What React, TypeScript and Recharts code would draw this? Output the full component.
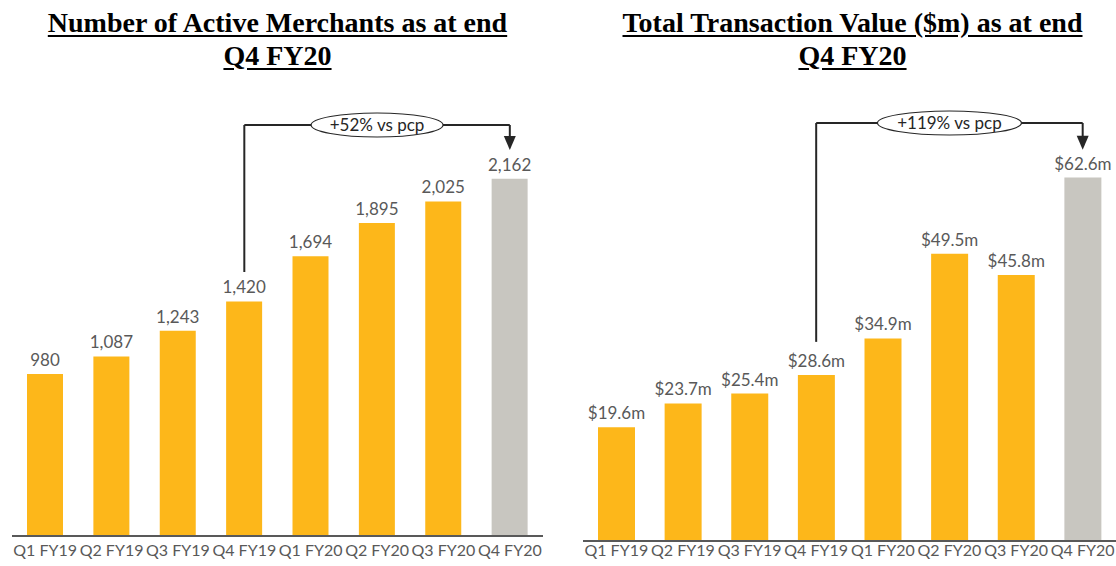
import React from "react"
import { BarChart, Bar, XAxis, YAxis, Cell, LabelList, ReferenceLine } from "recharts"

const quarters = ["Q1 FY19", "Q2 FY19", "Q3 FY19", "Q4 FY19", "Q1 FY20", "Q2 FY20", "Q3 FY20", "Q4 FY20"]
const merchants = [980, 1087, 1243, 1420, 1694, 1895, 2025, 2162]
const tv = [19.6, 23.7, 25.4, 28.6, 34.9, 49.5, 45.8, 62.6]

const merchantData = quarters.map((q, i) => ({ q, v: merchants[i] }))
const tvData = quarters.map((q, i) => ({ q, v: tv[i] }))

const ORANGE = "#FDB71A"
const GREY = "#C8C6C0"
const TEXT = "#595959"
const FONT = "Lato, 'Open Sans', sans-serif"

function Tick(props: any) {
  const { x, y, payload, dy } = props
  return (
    <text x={x} y={y + dy} textAnchor="middle" fill={TEXT} fontSize={16} fontFamily={FONT}>
      {payload.value}
    </text>
  )
}

// horizontal part of the bracket with the ellipse label in the middle
const bracketTop = (label: string, rx: number) => (props: any) => {
  const { x1, x2, y1 } = props
  const cx = (x1 + x2) / 2
  return (
    <g>
      <line x1={x1} x2={x2} y1={y1} y2={y1} stroke="#262626" strokeWidth={2} />
      <ellipse cx={cx} cy={y1} rx={rx} ry={12} fill="#fff" stroke="#262626" strokeWidth={1.2} />
      <text x={cx} y={y1 + 6} textAnchor="middle" fontSize={17} fontFamily={FONT} fill="#262626">
        {label}
      </text>
    </g>
  )
}

const arrowDown = (props: any) => {
  const { x1, y1, y2 } = props
  const top = Math.min(y1, y2)
  const tip = Math.max(y1, y2)
  return (
    <g>
      <line x1={x1} x2={x1} y1={top} y2={tip - 12} stroke="#262626" strokeWidth={2} />
      <path d={`M${x1 - 6},${tip - 14} L${x1 + 6},${tip - 14} L${x1},${tip} Z`} fill="#262626" />
    </g>
  )
}

function Panel(props: any) {
  const { data, domain, top, bottom, arrowTip, fmt, label, rx, width, left, axisH, tickDy, barSize } = props
  return (
    <BarChart width={width} height={566} data={data} margin={{ top: 123, right: 0, left, bottom: 0 }} barCategoryGap={0}>
      <XAxis
        dataKey="q"
        height={axisH}
        tickLine={false}
        axisLine={{ stroke: TEXT, strokeWidth: 2 }}
        interval={0}
        tick={<Tick dy={tickDy} />}
      />
      <YAxis hide domain={domain} />
      <Bar dataKey="v" barSize={barSize} isAnimationActive={false}>
        {data.map((_: any, i: number) => (
          <Cell key={i} fill={i === data.length - 1 ? GREY : ORANGE} />
        ))}
        <LabelList
          dataKey="v"
          position="top"
          offset={8}
          formatter={fmt}
          style={{ fill: TEXT, fontSize: 17, fontFamily: FONT }}
        />
      </Bar>
      <ReferenceLine
        segment={[{ x: "Q4 FY19", y: bottom }, { x: "Q4 FY19", y: top }]}
        stroke="#262626"
        strokeWidth={2}
        ifOverflow="visible"
      />
      <ReferenceLine
        segment={[{ x: "Q4 FY19", y: top }, { x: "Q4 FY20", y: top }]}
        shape={bracketTop(label, rx)}
        ifOverflow="visible"
      />
      <ReferenceLine
        segment={[{ x: "Q4 FY20", y: top }, { x: "Q4 FY20", y: arrowTip }]}
        shape={arrowDown}
        ifOverflow="visible"
      />
    </BarChart>
  )
}

const titleStyle: React.CSSProperties = {
  position: "absolute",
  top: 6,
  textAlign: "center",
  fontFamily: "'Liberation Serif', serif",
  fontWeight: 700,
  fontSize: 28,
  lineHeight: "33px",
  textDecoration: "underline",
  textUnderlineOffset: 3,
  color: "#000",
}

export default function App() {
  return (
    <div style={{ position: "fixed", left: 0, top: 0, width: 1116, height: 566, background: "#fff", overflow: "hidden" }}>
      <div style={{ ...titleStyle, left: 0, width: 555 }}>
        Number of Active Merchants as at end
        <br />
        Q4 FY20
      </div>
      <div style={{ ...titleStyle, left: 580, width: 545 }}>
        Total Transaction Value ($m) as at end
        <br />
        Q4 FY20
      </div>
      <div style={{ position: "absolute", left: 0, top: 0 }}>
        <Panel
          data={merchantData}
          domain={[0, 2500]}
          top={2488}
          bottom={1598}
          arrowTip={2336}
          fmt={(v: number) => v.toLocaleString("en-US")}
          label="+52% vs pcp"
          rx={66}
          width={543}
          left={12}
          axisH={30}
          tickDy={12}
          barSize={36}
        />
      </div>
      <div style={{ position: "absolute", left: 570, top: 0 }}>
        <Panel
          data={tvData}
          domain={[0, 72]}
          top={72}
          bottom={34.3}
          arrowTip={67.4}
          fmt={(v: number) => `$${v.toFixed(1)}m`}
          label="+119% vs pcp"
          rx={72}
          width={546}
          left={13}
          axisH={25}
          tickDy={7}
          barSize={37}
        />
      </div>
    </div>
  )
}
